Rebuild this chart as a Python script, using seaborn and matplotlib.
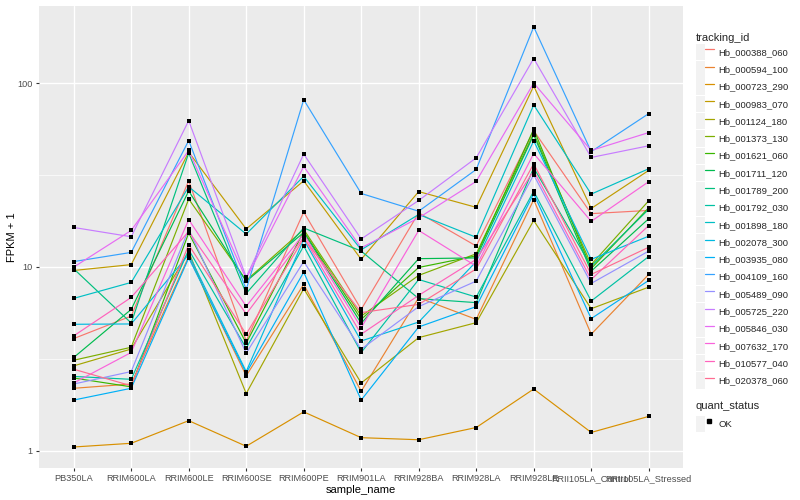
import pandas as pd
import matplotlib
matplotlib.use("Agg")
import matplotlib.pyplot as plt
import seaborn as sns
from matplotlib.lines import Line2D
from matplotlib.patches import Rectangle
from matplotlib.legend_handler import HandlerTuple
from matplotlib.ticker import FixedLocator, NullFormatter

# samples on the x axis, in plot order
samples = ["PB350LA", "RRIM600LA", "RRIM600LE", "RRIM600SE", "RRIM600PE",
           "RRIM901LA", "RRIM928BA", "RRIM928LA", "RRIM928LE",
           "RRII105LA_Control", "RRII105LA_Stressed"]

tracking_ids = ["Hb_000388_060", "Hb_000594_100", "Hb_000723_290", "Hb_000983_070",
                "Hb_001124_180", "Hb_001373_130", "Hb_001621_060", "Hb_001711_120",
                "Hb_001789_200", "Hb_001792_030", "Hb_001898_180", "Hb_002078_300",
                "Hb_003935_080", "Hb_004109_160", "Hb_005489_090", "Hb_005725_220",
                "Hb_005846_030", "Hb_007632_170", "Hb_010577_040", "Hb_020378_060"]

# ggplot default hue palette for 20 levels
palette = ["#F8766D", "#EA8331", "#D89000", "#C09B00", "#A3A500", "#7CAE00",
           "#39B600", "#00BB4E", "#00BF7D", "#00C1A3", "#00BFC4", "#00BAE0",
           "#00B0F6", "#35A2FF", "#9590FF", "#C77CFF", "#E76BF3", "#FA62DB",
           "#FF62BC", "#FF6C91"]

# FPKM + 1 per gene, one value per sample
hb_000388_060 = [4.08, 5.41, 29.4, 3.96, 19.9, 5.88, 19.7, 13.0, 55.1, 19.5, 20.3]
hb_000594_100 = [2.19, 2.31, 11.4, 2.56, 8.04, 2.11, 6.81, 5.19, 23.2, 4.31, 9.11]
hb_000723_290 = [1.05, 1.10, 1.46, 1.06, 1.63, 1.18, 1.15, 1.34, 2.17, 1.26, 1.54]
hb_000983_070 = [9.57, 10.3, 42.1, 16.1, 29.4, 11.0, 25.7, 21.1, 96.3, 20.8, 33.5]
hb_001124_180 = [2.90, 3.58, 12.1, 2.05, 7.62, 2.34, 4.13, 4.98, 17.9, 5.93, 7.77]
hb_001373_130 = [3.11, 3.66, 23.4, 8.45, 16.0, 5.41, 9.00, 11.8, 53.3, 10.3, 22.9]
hb_001621_060 = [2.49, 2.23, 15.3, 3.85, 15.6, 5.19, 9.94, 11.5, 56.1, 9.81, 21.0]
hb_001711_120 = [3.22, 5.88, 25.9, 8.35, 15.4, 4.94, 11.1, 11.2, 52.3, 9.49, 18.3]
hb_001789_200 = [9.78, 4.96, 41.6, 7.18, 16.3, 12.2, 6.73, 6.40, 34.6, 10.1, 20.6]
hb_001792_030 = [2.54, 2.45, 12.4, 3.62, 13.0, 3.43, 8.55, 6.86, 25.8, 6.53, 11.4]
hb_001898_180 = [6.75, 8.24, 27.3, 15.1, 31.1, 12.4, 19.3, 14.5, 76.0, 24.9, 34.2]
hb_002078_300 = [4.88, 4.90, 11.7, 2.70, 14.1, 3.96, 5.02, 10.7, 48.5, 11.0, 14.7]
hb_003935_080 = [1.89, 2.19, 11.2, 2.65, 9.37, 1.89, 4.72, 6.09, 25.0, 5.24, 8.45]
hb_004109_160 = [10.7, 12.0, 48.7, 7.55, 81.2, 25.1, 20.1, 33.9, 202.0, 42.4, 68.2]
hb_005489_090 = [2.31, 2.70, 16.0, 3.40, 10.7, 3.57, 6.09, 8.38, 31.7, 8.14, 12.2]
hb_005725_220 = [16.4, 14.6, 62.5, 8.81, 41.1, 14.2, 23.0, 39.2, 136.0, 39.4, 45.6]
hb_005846_030 = [9.98, 15.8, 43.0, 8.63, 35.2, 12.7, 18.5, 29.2, 100.0, 43.0, 53.8]
hb_007632_170 = [2.34, 3.43, 18.1, 6.11, 15.1, 4.68, 15.8, 10.1, 41.4, 17.7, 29.1]
hb_010577_040 = [4.22, 6.83, 15.6, 5.55, 14.5, 4.31, 7.01, 11.0, 33.3, 8.55, 16.8]
hb_020378_060 = [2.78, 2.26, 13.2, 4.31, 14.3, 5.65, 6.26, 9.76, 36.4, 9.11, 12.8]

series = [hb_000388_060, hb_000594_100, hb_000723_290, hb_000983_070, hb_001124_180,
          hb_001373_130, hb_001621_060, hb_001711_120, hb_001789_200, hb_001792_030,
          hb_001898_180, hb_002078_300, hb_003935_080, hb_004109_160, hb_005489_090,
          hb_005725_220, hb_005846_030, hb_007632_170, hb_010577_040, hb_020378_060]

# long format table
rows = []
for tid, vals in zip(tracking_ids, series):
    for s, v in zip(samples, vals):
        rows.append((tid, s, v, "OK"))
df = pd.DataFrame(rows, columns=["tracking_id", "sample_name", "fpkm", "quant_status"])

sns.set_theme(style="darkgrid")
plt.rcParams["font.family"] = ["Liberation Sans", "DejaVu Sans"]

fig = plt.figure(figsize=(8, 5), dpi=100)
ax = fig.add_axes([0.049, 0.064, 0.805, 0.924])
ax.set_facecolor("#EBEBEB")

sns.lineplot(data=df, x="sample_name", y="fpkm", hue="tracking_id",
             hue_order=tracking_ids, palette=palette, sort=False,
             estimator=None, linewidth=0.85, legend=False, ax=ax)
sns.scatterplot(data=df, x="sample_name", y="fpkm", color="black", marker="s",
                s=8, linewidth=0, legend=False, ax=ax, zorder=5)

ax.set_yscale("log")
ax.set_ylim(10 ** -0.093, 10 ** 2.419)
ax.set_xlim(-0.6, len(samples) - 0.4)
ax.yaxis.set_major_locator(FixedLocator([1, 10, 100]))
ax.set_yticklabels(["1", "10", "100"])
ax.yaxis.set_minor_locator(FixedLocator([10 ** 0.5, 10 ** 1.5]))
ax.yaxis.set_minor_formatter(NullFormatter())

ax.grid(which="major", color="white", linewidth=1.0)
ax.grid(which="minor", axis="y", color="white", linewidth=0.5)
ax.set_axisbelow(True)
for sp in ax.spines.values():
    sp.set_visible(False)

ax.tick_params(which="major", length=2.5, width=0.8, color="#333333",
               labelcolor="#4D4D4D", labelsize=6.6, pad=2,
               bottom=True, left=True)
ax.tick_params(which="minor", length=0)

ax.set_xlabel("sample_name", fontsize=8, color="black", labelpad=1)
ax.set_ylabel("FPKM + 1", fontsize=8, color="black")
ax.yaxis.set_label_coords(-0.035, 0.5)

# legends, ggplot style keys
def key(c):
    return (Rectangle((0, 0), 1, 1, facecolor="#F2F2F2", edgecolor="none"),
            Line2D([0], [0], color=c, linewidth=0.9))

hmap = {tuple: HandlerTuple(ndivide=None, pad=0)}
leg1 = fig.legend([key(c) for c in palette], tracking_ids, title="tracking_id",
                  handler_map=hmap, loc="upper left", bbox_to_anchor=(0.870, 0.934),
                  frameon=False, fontsize=6.8, title_fontsize=8,
                  handlelength=1.9, handleheight=2.3, handletextpad=0.45,
                  labelspacing=0.09, borderaxespad=0, borderpad=0)
leg1._legend_box.align = "left"

ok_key = (Rectangle((0, 0), 1, 1, facecolor="#F2F2F2", edgecolor="none"),
          Line2D([0], [0], color="black", marker="s", markersize=2.5, linestyle="none"))
leg2 = fig.legend([ok_key], ["OK"], title="quant_status",
                  handler_map=hmap, loc="upper left", bbox_to_anchor=(0.870, 0.198),
                  frameon=False, fontsize=6.8, title_fontsize=8,
                  handlelength=1.9, handleheight=2.3, handletextpad=0.45,
                  borderaxespad=0, borderpad=0)
leg2._legend_box.align = "left"

fig.savefig("out.png", dpi=100)
